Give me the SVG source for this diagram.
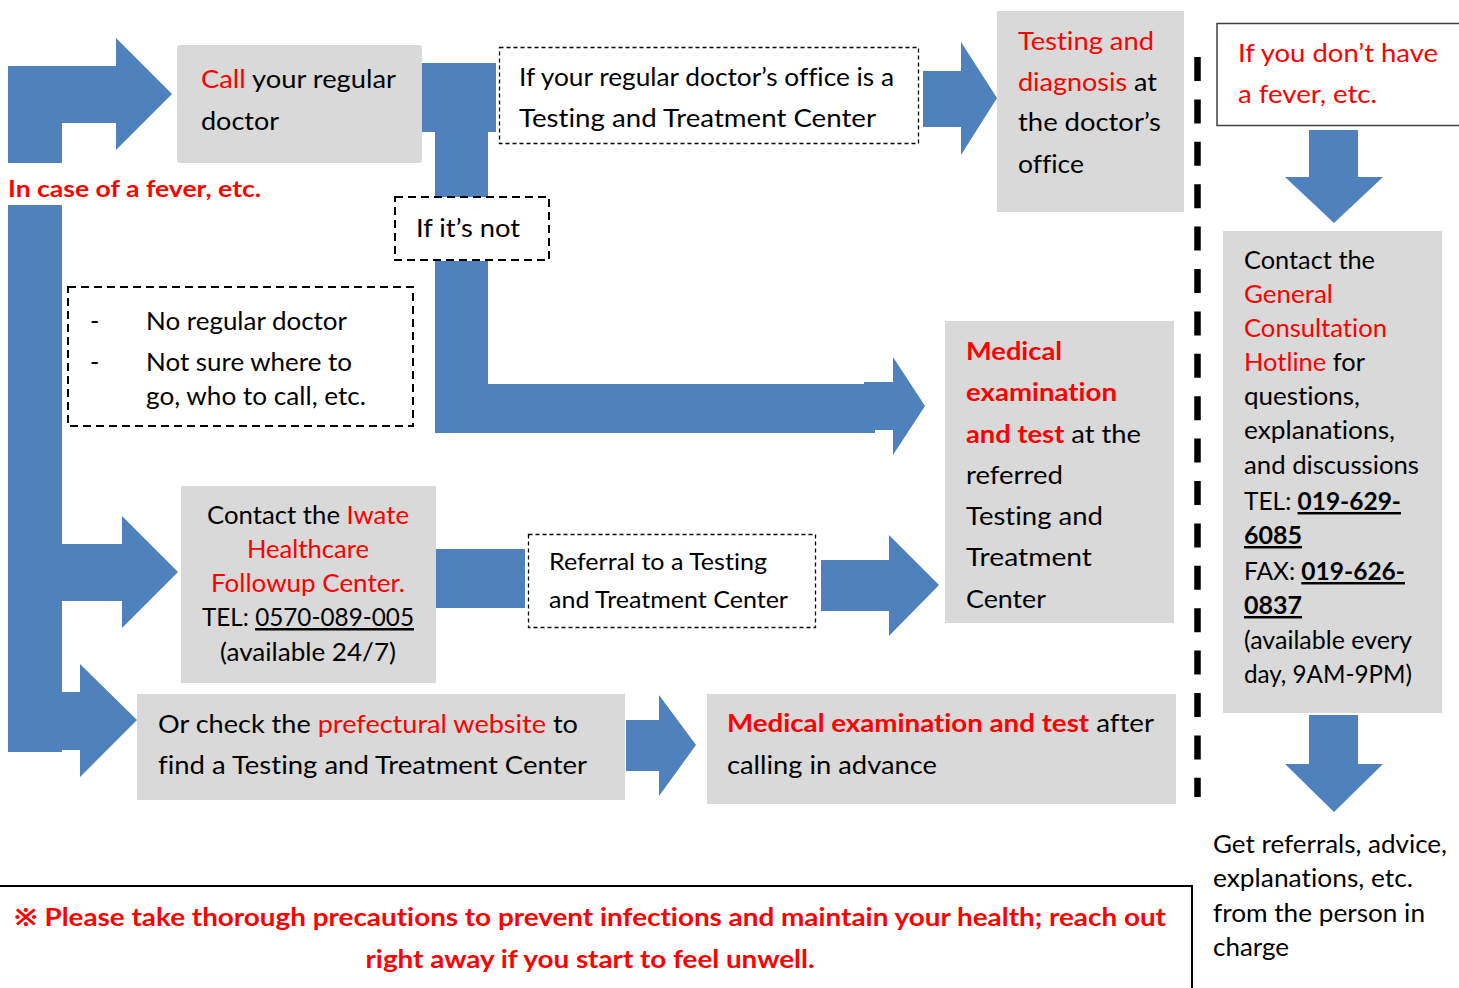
<svg xmlns="http://www.w3.org/2000/svg" width="1459" height="988" viewBox="0 0 1459 988">
<style>
.box{fill:#D9D9D9}
.dthin{fill:#FFFFFF;stroke:#000;stroke-width:1.3;stroke-dasharray:4 3}
.dthick{fill:#FFFFFF;stroke:#000;stroke-width:2;stroke-dasharray:8 5}
.arrow{fill:#4F81BD}
text{font-family:Lato,"Noto Sans","Noto Sans CJK JP","DejaVu Sans",sans-serif;font-size:25px;fill:#000;font-variant-ligatures:none}
.r{fill:#FF0000}
.b{font-weight:bold}
.s{font-size:23px}
.c{font-size:24.5px}
.u{text-decoration:underline}
</style>
<rect width="1459" height="988" fill="#FFFFFF"/>

<g id="connectors">
<path class="arrow" d="M8,163 V66 H116 V38 L172,94 L116,150 V123 H62 V163 Z"/>
<path class="arrow" d="M421,63 H496 V132 H488 V197 H435 V132 H421 Z"/>
<path class="arrow" d="M923,71 H961 V42 L997,98 L961,155 V127 H923 Z"/>
<path class="arrow" d="M435,261 H488 V384 H875 V433 H435 Z"/>
<path class="arrow" d="M864,382 H893 V357 L925,406 L893,455 V430 H864 Z"/>
<path class="arrow" d="M8,205 H62 V544 H122 V516 L178,572 L122,628 V601 H62 V692 H80 V664 L137,720 L80,777 V750 H62 V752 H8 Z"/>
<path class="arrow" d="M435,549 H525 V608 H435 Z"/>
<path class="arrow" d="M821,560 H889 V535 L939,585 L889,636 V611 H821 Z"/>
<path class="arrow" d="M626,720 H659 V695 L696,745 L659,796 V771 H626 Z"/>
<path class="arrow" d="M1309,130 H1358 V177 H1383 L1334,223 L1285,177 H1309 Z"/>
<path class="arrow" d="M1309,715 H1358 V764 H1383 L1334,812 L1285,764 H1309 Z"/>
</g>

<g id="separator">
<line x1="1197.5" y1="57" x2="1197.5" y2="797" stroke="#000" stroke-width="6.5" stroke-dasharray="24 18.4"/>
</g>

<g id="fever-label">
<text class="r b s" x="8" y="197" textLength="253" lengthAdjust="spacingAndGlyphs">In case of a fever, etc.</text>
</g>

<g id="call-doctor">
<rect class="box" x="177" y="45" width="245" height="118" rx="3"/>
<text x="201" y="88" textLength="195" lengthAdjust="spacingAndGlyphs"><tspan class="r">Call</tspan> your regular</text>
<text x="201" y="130" textLength="78" lengthAdjust="spacingAndGlyphs">doctor</text>
</g>

<g id="if-testing-center">
<rect class="dthin" x="499.5" y="47.5" width="419" height="96"/>
<text x="519" y="86" textLength="375" lengthAdjust="spacingAndGlyphs">If your regular doctor’s office is a</text>
<text x="519" y="127" textLength="357" lengthAdjust="spacingAndGlyphs">Testing and Treatment Center</text>
</g>

<g id="testing-diagnosis">
<rect class="box" x="997" y="11" width="187" height="201"/>
<text class="r" x="1018" y="50" textLength="136" lengthAdjust="spacingAndGlyphs">Testing and</text>
<text x="1018" y="91" textLength="139" lengthAdjust="spacingAndGlyphs"><tspan class="r">diagnosis</tspan> at</text>
<text x="1018" y="131" textLength="143" lengthAdjust="spacingAndGlyphs">the doctor’s</text>
<text x="1018" y="173" textLength="66" lengthAdjust="spacingAndGlyphs">office</text>
</g>

<g id="if-not">
<rect class="dthick" x="395" y="197" width="154" height="63"/>
<text x="416" y="237" textLength="104" lengthAdjust="spacingAndGlyphs">If it’s not</text>
</g>

<g id="no-regular-doctor">
<rect class="dthick" x="68" y="287" width="345" height="139"/>
<text x="90" y="330">-</text>
<text x="146" y="330" textLength="201" lengthAdjust="spacingAndGlyphs">No regular doctor</text>
<text x="90" y="371">-</text>
<text x="146" y="371" textLength="206" lengthAdjust="spacingAndGlyphs">Not sure where to</text>
<text x="146" y="405" textLength="220" lengthAdjust="spacingAndGlyphs">go, who to call, etc.</text>
</g>

<g id="iwate-center">
<rect class="box" x="181" y="486" width="255" height="197"/>
<text x="308" y="524" text-anchor="middle" textLength="202" lengthAdjust="spacingAndGlyphs">Contact the <tspan class="r">Iwate</tspan></text>
<text class="r" x="308" y="558" text-anchor="middle" textLength="122" lengthAdjust="spacingAndGlyphs">Healthcare</text>
<text class="r" x="308" y="592" text-anchor="middle" textLength="194" lengthAdjust="spacingAndGlyphs">Followup Center.</text>
<text x="308" y="626" text-anchor="middle" textLength="212" lengthAdjust="spacingAndGlyphs">TEL: <tspan class="u">0570-089-005</tspan></text>
<text x="308" y="661" text-anchor="middle" textLength="176" lengthAdjust="spacingAndGlyphs">(available 24/7)</text>
</g>

<g id="referral">
<rect class="dthin" x="528.5" y="534.5" width="287" height="93"/>
<text class="s" x="549" y="570" textLength="218" lengthAdjust="spacingAndGlyphs">Referral to a Testing</text>
<text class="s" x="549" y="608" textLength="239" lengthAdjust="spacingAndGlyphs">and Treatment Center</text>
</g>

<g id="medical-exam-referred">
<rect class="box" x="945" y="321" width="229" height="302"/>
<text class="r b" x="966" y="360" textLength="96" lengthAdjust="spacingAndGlyphs">Medical</text>
<text class="r b" x="966" y="401" textLength="151" lengthAdjust="spacingAndGlyphs">examination</text>
<text x="966" y="443" textLength="175" lengthAdjust="spacingAndGlyphs"><tspan class="r b">and test</tspan> at the</text>
<text x="966" y="484" textLength="97" lengthAdjust="spacingAndGlyphs">referred</text>
<text x="966" y="525" textLength="137" lengthAdjust="spacingAndGlyphs">Testing and</text>
<text x="966" y="566" textLength="126" lengthAdjust="spacingAndGlyphs">Treatment</text>
<text x="966" y="608" textLength="80" lengthAdjust="spacingAndGlyphs">Center</text>
</g>

<g id="prefectural-website">
<rect class="box" x="137" y="694" width="488" height="106"/>
<text x="158" y="733" textLength="420" lengthAdjust="spacingAndGlyphs">Or check the <tspan class="r">prefectural website</tspan> to</text>
<text x="158" y="774" textLength="429" lengthAdjust="spacingAndGlyphs">find a Testing and Treatment Center</text>
</g>

<g id="medical-exam-advance">
<rect class="box" x="707" y="694" width="469" height="110"/>
<text x="727" y="732" textLength="427" lengthAdjust="spacingAndGlyphs"><tspan class="r b">Medical examination and test</tspan> after</text>
<text x="727" y="774" textLength="210" lengthAdjust="spacingAndGlyphs">calling in advance</text>
</g>

<g id="no-fever">
<rect x="1217" y="23.5" width="260" height="102" fill="#FFFFFF" stroke="#404040" stroke-width="1.5"/>
<text class="r" x="1238" y="62" textLength="200" lengthAdjust="spacingAndGlyphs">If you don’t have</text>
<text class="r" x="1238" y="103" textLength="139" lengthAdjust="spacingAndGlyphs">a fever, etc.</text>
</g>

<g id="hotline">
<rect class="box" x="1223" y="231" width="219" height="482"/>
<text class="c" x="1244" y="269" textLength="131" lengthAdjust="spacingAndGlyphs">Contact the</text>
<text class="c r" x="1244" y="303" textLength="89" lengthAdjust="spacingAndGlyphs">General</text>
<text class="c r" x="1244" y="337" textLength="143" lengthAdjust="spacingAndGlyphs">Consultation</text>
<text class="c" x="1244" y="371" textLength="121" lengthAdjust="spacingAndGlyphs"><tspan class="r">Hotline</tspan> for</text>
<text class="c" x="1244" y="405" textLength="116" lengthAdjust="spacingAndGlyphs">questions,</text>
<text class="c" x="1244" y="439" textLength="151" lengthAdjust="spacingAndGlyphs">explanations,</text>
<text class="c" x="1244" y="474" textLength="175" lengthAdjust="spacingAndGlyphs">and discussions</text>
<text class="c" x="1244" y="510" textLength="157" lengthAdjust="spacingAndGlyphs">TEL: <tspan class="b u">019-629-</tspan></text>
<text class="c b u" x="1244" y="544" textLength="58" lengthAdjust="spacingAndGlyphs">6085</text>
<text class="c" x="1244" y="580" textLength="161" lengthAdjust="spacingAndGlyphs">FAX: <tspan class="b u">019-626-</tspan></text>
<text class="c b u" x="1244" y="614" textLength="58" lengthAdjust="spacingAndGlyphs">0837</text>
<text class="c" x="1244" y="649" textLength="168" lengthAdjust="spacingAndGlyphs">(available every</text>
<text class="c" x="1244" y="683" textLength="168" lengthAdjust="spacingAndGlyphs">day, 9AM-9PM)</text>
</g>

<g id="get-referrals">
<text class="c" x="1213" y="853" textLength="234" lengthAdjust="spacingAndGlyphs">Get referrals, advice,</text>
<text class="c" x="1213" y="887" textLength="200" lengthAdjust="spacingAndGlyphs">explanations, etc.</text>
<text class="c" x="1213" y="922" textLength="212" lengthAdjust="spacingAndGlyphs">from the person in</text>
<text class="c" x="1213" y="956" textLength="76" lengthAdjust="spacingAndGlyphs">charge</text>
</g>

<g id="precaution-note">
<path d="M0,886 H1192 V988" fill="none" stroke="#000" stroke-width="2"/>
<text class="r b" x="590" y="926" text-anchor="middle" textLength="1152" lengthAdjust="spacingAndGlyphs">※ Please take thorough precautions to prevent infections and maintain your health; reach out</text>
<text class="r b" x="590" y="968" text-anchor="middle" textLength="449" lengthAdjust="spacingAndGlyphs">right away if you start to feel unwell.</text>
</g>
</svg>
